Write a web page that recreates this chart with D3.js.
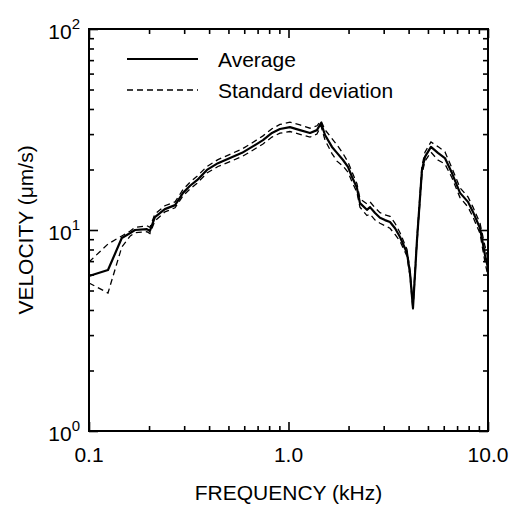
<!DOCTYPE html>
<html>
<head>
<meta charset="utf-8">
<script src="https://cdn.jsdelivr.net/npm/d3@7"></script>
<style>
  body { margin: 0; background: #fff; }
  text { font-family: "Liberation Sans", Arial, sans-serif; fill: #000; }
</style>
</head>
<body>
<div id="graph"></div>
<script>
// frequency in kHz
var freq = [0.100, 0.1245, 0.146, 0.161, 0.170, 0.195, 0.202, 0.214, 0.240, 0.270,
  0.296, 0.321, 0.348, 0.390, 0.443, 0.509, 0.585, 0.656, 0.745, 0.826,
  0.906, 1.017, 1.142, 1.282, 1.389, 1.455, 1.524, 1.652, 1.750, 1.876,
  1.987, 2.080, 2.203, 2.281, 2.472, 2.562, 2.716, 2.875, 3.045, 3.227,
  3.420, 3.622, 3.926, 4.064, 4.207, 4.406, 4.667, 4.831, 5.177, 5.610,
  6.081, 6.598, 7.238, 7.939, 8.41, 9.12, 9.66, 10.0];

// velocity in um/s
var average = [5.90, 6.32, 9.12, 9.66, 10.0, 10.1, 9.89, 11.6, 12.7, 13.3,
  15.3, 16.6, 17.7, 19.9, 21.5, 22.8, 24.2, 25.9, 28.0, 30.4,
  31.8, 32.5, 31.4, 30.4, 31.4, 34.1, 29.7, 25.9, 24.2, 22.3,
  20.6, 18.4, 16.2, 13.6, 12.6, 13.0, 12.15, 11.5, 11.2, 10.96,
  10.2, 9.23, 7.68, 6.11, 4.09, 8.92, 19.9, 23.1, 25.9, 24.2,
  22.8, 19.2, 15.3, 13.8, 12.3, 10.2, 7.51, 6.47];

var sdUpper = [6.93, 8.52, 9.34, 9.89, 10.3, 10.5, 10.3, 12.0, 13.2, 13.8,
  15.9, 17.3, 18.5, 20.7, 22.4, 23.8, 25.3, 27.1, 29.4, 31.9,
  33.5, 34.4, 33.3, 32.1, 33.0, 35.0, 31.5, 28.5, 26.5, 24.0,
  21.8, 19.5, 17.0, 14.3, 13.5, 13.8, 12.9, 12.2, 11.9, 11.7,
  10.8, 9.7, 8.0, 6.3, 4.25, 9.2, 20.8, 24.4, 27.4, 26.0,
  24.5, 20.3, 16.2, 14.6, 13.0, 10.8, 8.3, 7.2];

var sdLower = [5.45, 4.86, 8.23, 9.34, 9.7, 9.8, 9.6, 11.1, 12.3, 12.9,
  14.8, 16.0, 17.1, 19.2, 20.7, 21.9, 23.2, 24.8, 26.8, 29.0,
  30.3, 30.9, 29.9, 29.0, 30.0, 33.0, 28.0, 24.0, 22.0, 20.8,
  19.4, 17.4, 15.4, 13.0, 11.8, 12.0, 11.2, 10.8, 10.5, 10.2,
  9.5, 8.8, 7.4, 5.9, 4.0, 8.6, 19.0, 22.0, 24.4, 22.3,
  21.3, 18.2, 14.5, 13.0, 11.6, 9.6, 6.9, 5.9];

var xMajor = [0.1, 1, 10];
var xMajorLabels = ["0.1", "1.0", "10.0"];
var yMajor = [1, 10, 100];
var yMajorExp = ["0", "1", "2"];

var m = [29, 27, 74, 89]; // top right bottom left
var W = 515, H = 505;
var w = W - m[1] - m[3];
var h = H - m[0] - m[2];

var x = d3.scaleLog().domain([0.1, 10]).range([0, w]);
var y = d3.scaleLog().domain([1, 100]).range([h, 0]);

var xMinor = [], yMinor = [];
[0.1, 1].forEach(function (d) { for (var k = 2; k <= 9; k++) xMinor.push(d * k); });
[1, 10].forEach(function (d) { for (var k = 2; k <= 9; k++) yMinor.push(d * k); });

var svg = d3.select("#graph").append("svg")
  .attr("width", W)
  .attr("height", H);
var graph = svg.append("g")
  .attr("transform", "translate(" + m[3] + "," + m[0] + ")");

// ticks (inward) on all four sides
function addAxis(axis, tr) {
  var g = graph.append("g").attr("transform", tr).call(axis);
  g.select(".domain").remove();
  g.selectAll("line").attr("stroke", "#000").attr("stroke-width", 1.6);
  return g;
}
addAxis(d3.axisBottom(x).tickValues(xMinor).tickSize(-5).tickFormat(""), "translate(0," + h + ")");
addAxis(d3.axisBottom(x).tickValues(xMajor).tickSize(-9).tickFormat(""), "translate(0," + h + ")");
addAxis(d3.axisTop(x).tickValues(xMinor).tickSize(-5).tickFormat(""), "translate(0,0)");
addAxis(d3.axisTop(x).tickValues(xMajor).tickSize(-9).tickFormat(""), "translate(0,0)");
addAxis(d3.axisLeft(y).tickValues(yMinor).tickSize(-5).tickFormat(""), "translate(0,0)");
addAxis(d3.axisLeft(y).tickValues(yMajor).tickSize(-9).tickFormat(""), "translate(0,0)");
addAxis(d3.axisRight(y).tickValues(yMinor).tickSize(-5).tickFormat(""), "translate(" + w + ",0)");
addAxis(d3.axisRight(y).tickValues(yMajor).tickSize(-9).tickFormat(""), "translate(" + w + ",0)");

// frame
graph.append("rect")
  .attr("x", 0).attr("y", 0)
  .attr("width", w).attr("height", h)
  .attr("fill", "none")
  .attr("stroke", "#000")
  .attr("stroke-width", 2);

// x tick labels
graph.selectAll(".xlab").data(xMajor).enter().append("text")
  .attr("class", "xlab")
  .attr("x", function (d) { return x(d); })
  .attr("y", h + 31)
  .attr("text-anchor", "middle")
  .style("font-size", "21px")
  .text(function (d, i) { return xMajorLabels[i]; });

// y tick labels 10^n
var ylab = graph.selectAll(".ylab").data(yMajor).enter().append("text")
  .attr("class", "ylab")
  .attr("x", -9)
  .attr("y", function (d) { return y(d) + 10; })
  .attr("text-anchor", "end")
  .style("font-size", "21px");
ylab.append("tspan").text("10");
ylab.append("tspan")
  .attr("dy", -10)
  .style("font-size", "15px")
  .text(function (d, i) { return yMajorExp[i]; });

// axis titles
svg.append("text")
  .attr("x", m[3] + w / 2)
  .attr("y", 500)
  .attr("text-anchor", "middle")
  .style("font-size", "21px")
  .text("FREQUENCY (kHz)");
svg.append("text")
  .attr("transform", "translate(33," + (m[0] + h / 2) + ") rotate(-90)")
  .attr("text-anchor", "middle")
  .style("font-size", "21px")
  .text("VELOCITY (\u03bcm/s)");

// curves
function lineOf(vals) {
  return d3.line()
    .x(function (d, i) { return x(freq[i]); })
    .y(function (d) { return y(d); })(vals);
}
graph.append("path").attr("d", lineOf(sdUpper))
  .attr("fill", "none").attr("stroke", "#000").attr("stroke-width", 1.3)
  .attr("stroke-dasharray", "6,4");
graph.append("path").attr("d", lineOf(sdLower))
  .attr("fill", "none").attr("stroke", "#000").attr("stroke-width", 1.3)
  .attr("stroke-dasharray", "6,4");
graph.append("path").attr("d", lineOf(average))
  .attr("fill", "none").attr("stroke", "#000").attr("stroke-width", 2.2)
  .attr("stroke-linejoin", "round");

// legend
var leg = graph.append("g").attr("transform", "translate(38,30)");
leg.append("line").attr("x1", 0).attr("x2", 71).attr("y1", 0).attr("y2", 0)
  .attr("stroke", "#000").attr("stroke-width", 2.2);
leg.append("text").attr("x", 91).attr("y", 8).style("font-size", "21px").text("Average");
leg.append("line").attr("x1", 0).attr("x2", 71).attr("y1", 31).attr("y2", 31)
  .attr("stroke", "#000").attr("stroke-width", 1.3).attr("stroke-dasharray", "6,4");
leg.append("text").attr("x", 91).attr("y", 39).style("font-size", "21px").text("Standard deviation");
</script>
</body>
</html>
